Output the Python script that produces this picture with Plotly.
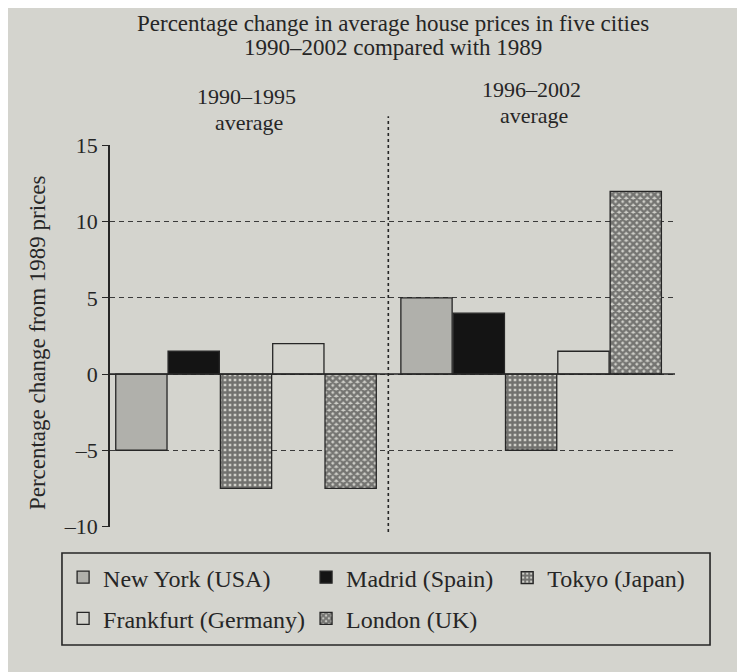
import plotly.graph_objects as go

cities = ["New York (USA)", "Madrid (Spain)", "Tokyo (Japan)", "Frankfurt (Germany)", "London (UK)"]
period_names = ["1990–1995", "1996–2002"]
period_suffix = "average"
avg_1990_1995 = [-5, 1.5, -7.5, 2, -7.5]
avg_1996_2002 = [5, 4, -5, 1.5, 12]
y_ticks = [-10, -5, 0, 5, 10, 15]
y_tick_text = ["–10", "–5", "0", "5", "10", "15"]
title_lines = ["Percentage change in average house prices in five cities", "1990–2002 compared with 1989"]
y_title = "Percentage change from 1989 prices"

PAPER = "#d4d4ce"
INK = "#262626"
FONT = "Liberation Serif"

# page body has an 8px margin: size the figure so the page fits the window
W, H = 737, 664
ML, MT, MR, MB = 102, 137, 70, 145

group_start = [0, 5.45]
styles = [
    dict(color="#b0b0ab"),
    dict(color="#141414"),
    dict(color="#8a8a85", pattern=dict(shape="+", size=5, solidity=0.72, fgcolor="#141414", bgcolor="#cfcfc9")),
    dict(color=PAPER),
    dict(color="#8a8a85", pattern=dict(shape="x", size=5, solidity=0.75, fgcolor="#1c1c1c", bgcolor="#cfcfc9")),
]
# legend column for each city (layout: row1 NY, Madrid, Tokyo; row2 Frankfurt, London)
legend_of = ["legend", "legend2", "legend3", "legend", "legend2"]

fig = go.Figure()
for i, city in enumerate(cities):
    vals = [avg_1990_1995[i], avg_1996_2002[i]]
    xs = [g + i for g in group_start]
    m = dict(styles[i])
    m["line"] = dict(color=INK, width=1.3)
    fig.add_trace(go.Bar(x=xs, y=vals, name=city, width=0.98, marker=m,
                         legend=legend_of[i], legendgroup=city))

divider_x = 4.72
fig.add_shape(type="line", xref="x", yref="paper", x0=divider_x, x1=divider_x, y0=-0.013, y1=1.075,
              line=dict(color=INK, width=1.6, dash="dot"))
fig.add_shape(type="line", xref="paper", yref="y", x0=0, x1=1, y0=0, y1=0,
              line=dict(color=INK, width=1.5))
# legend frame
fig.add_shape(type="rect", xref="paper", yref="paper", x0=-0.085, x1=1.062, y0=-0.309, y1=-0.068,
              line=dict(color=INK, width=1.6), fillcolor="rgba(0,0,0,0)")

sub_y = [(1.128, 1.06), (1.145, 1.077)]
for g, name, (y1, y2) in zip(group_start, period_names, sub_y):
    fig.add_annotation(x=g + 2, xref="x", y=y1, yref="paper", yanchor="middle",
                       text=name, showarrow=False, font=dict(family=FONT, size=22, color=INK))
    fig.add_annotation(x=g + 2.05, xref="x", y=y2, yref="paper", yanchor="middle",
                       text=period_suffix, showarrow=False, font=dict(family=FONT, size=22, color=INK))

for txt, yy in zip(title_lines, [1.318, 1.256]):
    fig.add_annotation(x=0.501, xref="paper", y=yy, yref="paper", yanchor="middle", xanchor="center",
                       text=txt, showarrow=False, font=dict(family=FONT, size=23, color=INK))
fig.add_annotation(x=-0.127, xref="paper", y=0.482, yref="paper", textangle=-90,
                   xanchor="center", yanchor="middle",
                   text=y_title, showarrow=False, font=dict(family=FONT, size=23, color=INK))

leg_common = dict(orientation="v", yanchor="middle", xanchor="left", borderwidth=0,
                  bgcolor="rgba(0,0,0,0)", font=dict(family=FONT, size=24, color=INK),
                  itemwidth=30, tracegroupgap=7)
fig.update_layout(
    width=W, height=H,
    margin=dict(l=ML, r=MR, t=MT, b=MB, autoexpand=False),
    paper_bgcolor=PAPER, plot_bgcolor=PAPER,
    font=dict(family=FONT, size=22, color=INK),
    barmode="overlay",
    showlegend=True,
    legend=dict(x=-0.083, y=-0.186, **leg_common),
    legend2=dict(x=0.347, y=-0.186, **leg_common),
    legend3=dict(x=0.703, y=-0.1335, **leg_common),
)
fig.update_xaxes(range=[-0.6, 10.2], showticklabels=False, showgrid=False, zeroline=False,
                 showline=False, ticks="", automargin=False)
fig.update_yaxes(range=[-10.04, 15.04], tickvals=y_ticks, ticktext=y_tick_text,
                 showgrid=True, gridcolor="#3a3a3a", griddash="5px,4px", gridwidth=1.2,
                 zeroline=False, showline=True, linecolor=INK, linewidth=1.5,
                 ticks="outside", ticklen=6, tickcolor=INK, automargin=False,
                 tickfont=dict(family=FONT, size=22, color=INK))

fig.write_html("out.html")
